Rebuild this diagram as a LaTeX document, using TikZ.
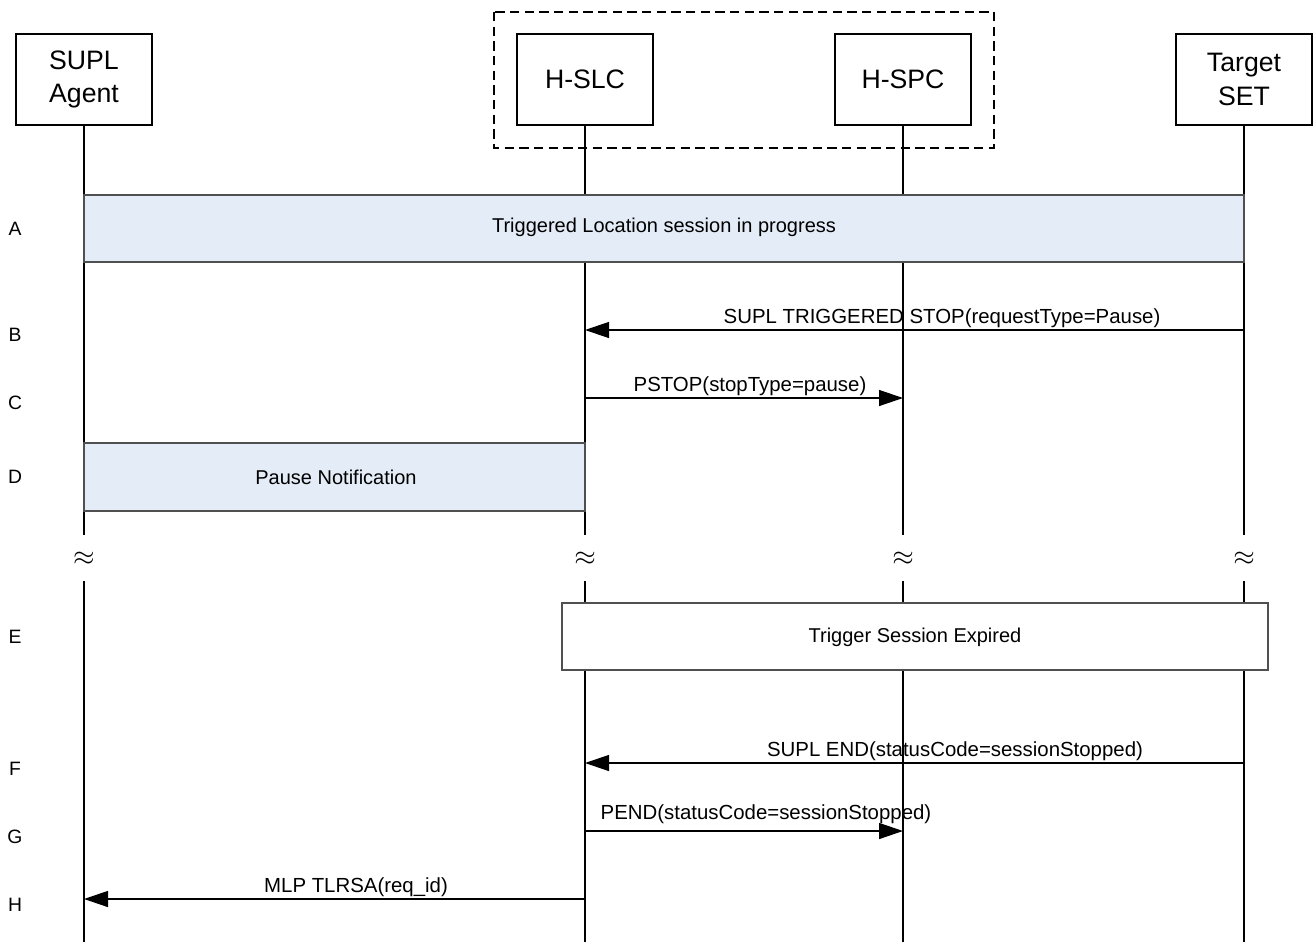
\documentclass[tikz,border=0pt]{standalone}
\usepackage{fontspec}
\setmainfont{Liberation Sans}
\usetikzlibrary{arrows.meta}
\definecolor{panelblue}{HTML}{E4ECF7}
\definecolor{edgegray}{HTML}{505050}
\tikzset{
  x=0.75pt, y=-0.75pt,
  actor/.style={draw=black, line width=1pt, minimum width=102pt, minimum height=68pt, inner sep=0pt, align=center, font=\fontsize{20}{25}\selectfont},
  life/.style={line width=1pt},
  groupbox/.style={draw=black, line width=1pt, dash pattern=on 7pt off 4pt},
  panel/.style={draw=edgegray, line width=0.9pt, fill=panelblue},
  plainpanel/.style={draw=edgegray, line width=0.9pt, fill=white},
  ptext/.style={font=\fontsize{15}{17}\selectfont, inner sep=0pt},
  msg/.style={line width=1pt, -{Triangle[length=18pt, width=12pt]}},
  mlabel/.style={font=\fontsize{15.3}{17}\selectfont, inner sep=0pt, anchor=base},
  rowlab/.style={font=\fontsize{14.5}{17}\selectfont, inner sep=0pt},
  brk/.style={font=\fontsize{20}{22}\selectfont, inner sep=0pt, fill=white},
}
\begin{document}
\begin{tikzpicture}
\useasboundingbox (0,0) rectangle (1313,942);
% group box
\draw[groupbox] (494,12) rectangle (994,148);
% actors
\node[actor] (sa) at (84,79.5) {SUPL\\Agent};
\node[actor] (slc) at (585,79.5) {H-SLC};
\node[actor] (spc) at (903,79.5) {H-SPC};
\node[actor] (set) at (1244,79.5) {Target\\SET};
% lifelines with break marks
\foreach \n/\x in {sa/84, slc/585, spc/903, set/1244}{
  \coordinate (\n-b1) at (\x,535);
  \coordinate (\n-t2) at (\x,581);
  \coordinate (\n-end) at (\x,942);
  \node[brk] (\n-brk) at (\x,559) {$\approx$};
  \draw[life] (\n.south) -- (\n-b1);
  \draw[life] (\n-t2) -- (\n-end);
}
% A
\draw[panel] (84,195) rectangle (1244,262);
\node[ptext] (ta) at (664,227) {Triggered Location session in progress};
% B
\coordinate (bs) at (1244,330);
\coordinate (be) at (585,330);
\draw[msg] (bs) -- (be);
\node[mlabel] (lb) at (942,323) {SUPL TRIGGERED STOP(requestType=Pause)};
% C
\coordinate (cs) at (585,398);
\coordinate (ce) at (903,398);
\draw[msg] (cs) -- (ce);
\node[mlabel] (lc) at (750,391) {PSTOP(stopType=pause)};
% D
\draw[panel] (84,443) rectangle (585,511);
\node[ptext] (td) at (336,477) {Pause Notification};
% E
\draw[plainpanel] (562,603) rectangle (1268,670);
\node[ptext] (te) at (915,637) {Trigger Session Expired};
% F
\coordinate (fs) at (1244,763);
\coordinate (fe) at (585,763);
\draw[msg] (fs) -- (fe);
\node[mlabel] (lf) at (955,756) {SUPL END(statusCode=sessionStopped)};
% G
\coordinate (gs) at (585,831);
\coordinate (ge) at (903,831);
\draw[msg] (gs) -- (ge);
\node[mlabel] (lg) at (766,819) {PEND(statusCode=sessionStopped)};
% H
\coordinate (hs) at (585,899);
\coordinate (he) at (84,899);
\draw[msg] (hs) -- (he);
\node[mlabel] (lh) at (356,892) {MLP TLRSA(req\_id)};
% row labels
\foreach \l/\y in {A/229, B/335, C/403, D/477, E/637, F/769, G/837, H/905}{
  \node[rowlab] (row\l) at (15,\y) {\l};
}
\end{tikzpicture}
\end{document}
